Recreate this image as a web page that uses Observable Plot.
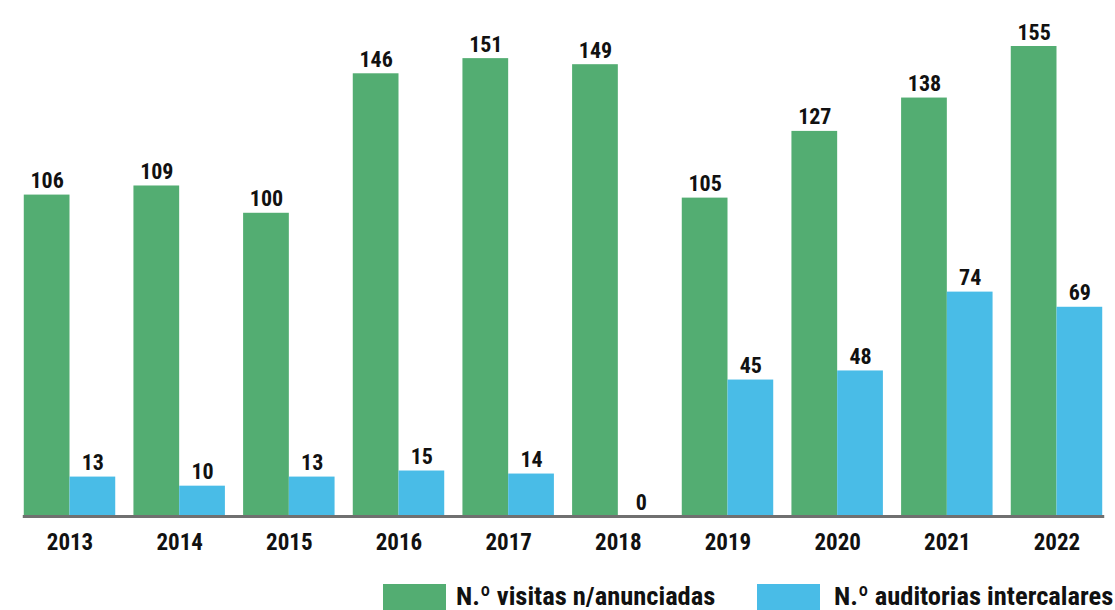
<!DOCTYPE html>
<html>
<head>
<meta charset="utf-8">
<script src="https://cdn.jsdelivr.net/npm/d3@7"></script>
<script src="https://cdn.jsdelivr.net/npm/@observablehq/plot@0.6"></script>
<style>
  html, body { margin: 0; padding: 0; background: #fff; }
  body { width: 1115px; height: 610px; overflow: hidden; font-family: "Roboto Condensed", "Liberation Sans Narrow", "Arial Narrow", Roboto, sans-serif; font-stretch: condensed; }
  #legend { position: relative; height: 27px; margin-top: 24px; }
  .item { position: absolute; top: 0; display: flex; align-items: flex-start; font-weight: bold; font-size: 26.5px; color: #111; white-space: nowrap; }
  .sw { width: 63px; height: 26px; }
  .lbl { line-height: 20px; padding-top: 2px; }
</style>
</head>
<body>
<div id="chart"></div>
<div id="legend"></div>
<script>
const years = ["2013","2014","2015","2016","2017","2018","2019","2020","2021","2022"];
const seriesNames = ["N.º visitas n/anunciadas", "N.º auditorias intercalares"];
const visitas = [106, 109, 100, 146, 151, 149, 105, 127, 138, 155];
const auditorias = [13, 10, 13, 15, 14, 0, 45, 48, 74, 69];
const colors = ["#53ad72", "#49bce7"];

const data = [];
years.forEach((y, i) => {
  data.push({year: y, series: seriesNames[0], value: visitas[i]});
  data.push({year: y, series: seriesNames[1], value: auditorias[i]});
});

const fontFamily = '"Roboto Condensed", "Liberation Sans Narrow", "Arial Narrow", Roboto, sans-serif';

const chart = Plot.plot({
  width: 1115,
  height: 560,
  marginTop: 46,
  marginBottom: 44,
  marginLeft: 12,
  marginRight: 0,
  style: {fontFamily, background: "#fff"},
  fx: {domain: years, range: [15, 1111], round: false, paddingInner: 0.166, paddingOuter: 0.08, label: null, axis: null},
  x: {domain: seriesNames, padding: 0, round: false, axis: null},
  y: {domain: [0, 155], axis: null},
  color: {domain: seriesNames, range: colors},
  marks: [
    Plot.barY(data, {fx: "year", x: "series", y: "value", fill: "series"}),
    Plot.text(data, {fx: "year", x: "series", y: "value", text: d => String(d.value), lineAnchor: "bottom", dy: -7, fontSize: 22, fontWeight: "bold", fill: "#111"}),
    Plot.frame({anchor: "bottom", stroke: "#707070", strokeWidth: 3, facet: "super"}),
    Plot.axisFx({anchor: "bottom", tickSize: 0, tickPadding: 17, fontSize: 23, fontWeight: "bold", fill: "#111", label: null})
  ]
});
document.getElementById("chart").appendChild(chart);

const legend = document.getElementById("legend");
const positions = [383, 757];
const gaps = [10, 14];
seriesNames.forEach((name, i) => {
  const item = document.createElement("div");
  item.className = "item";
  item.style.left = positions[i] + "px";
  const sw = document.createElement("div");
  sw.className = "sw";
  sw.style.background = colors[i];
  sw.style.marginRight = gaps[i] + "px";
  const lbl = document.createElement("span");
  lbl.className = "lbl";
  lbl.textContent = name;
  item.appendChild(sw);
  item.appendChild(lbl);
  legend.appendChild(item);
});
</script>
</body>
</html>
